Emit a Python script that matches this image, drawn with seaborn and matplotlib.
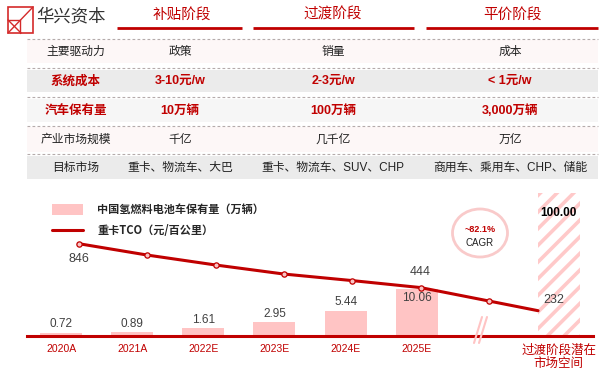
import matplotlib
matplotlib.use('Agg')
import matplotlib.pyplot as plt
import matplotlib.transforms as mtransforms
from matplotlib.patches import Rectangle, Ellipse, Patch
from matplotlib.lines import Line2D
import seaborn as sns
import pandas as pd

# ---------------- data ----------------
stages = ['补贴阶段', '过渡阶段', '平价阶段']
row_labels = ['主要驱动力', '系统成本', '汽车保有量', '产业市场规模', '目标市场']
col_subsidy = ['政策', '3-10元/w', '10万辆', '千亿', '重卡、物流车、大巴']
col_transition = ['销量', '2-3元/w', '100万辆', '几千亿', '重卡、物流车、SUV、CHP']
col_parity = ['成本', '< 1元/w', '3,000万辆', '万亿', '商用车、乘用车、CHP、储能']

years = ['2020A', '2021A', '2022E', '2023E', '2024E', '2025E']
gap_label = ' '
potential_label = '过渡阶段潜在\n市场空间'
fcv_stock = [0.72, 0.89, 1.61, 2.95, 5.44, 10.06]
potential_stock = 100.00
tco_pos = [0, 1, 2, 3, 4, 5, 6, 6.72]
tco_values = [846, 742, 651, 568, 508, 444, 321, 232]
tco_labelled = {0: 846, 5: 444, 7: 232}
cagr_text = '~82.1%'
legend_labels = ['中国氢燃料电池车保有量（万辆）', '重卡TCO（元/百公里）']
brand = '华兴资本'

# ---------------- style ----------------
RED = '#C00000'
PINK = '#FFC4C4'
HATCH = '#FFC9C9'
TXT = '#404040'
sns.set_style('white')
plt.rcParams['font.family'] = ['Noto Sans CJK SC', 'DejaVu Sans']
plt.rcParams['hatch.linewidth'] = 2.6
plt.rcParams['hatch.color'] = HATCH
MIX = ['Liberation Sans', 'Noto Sans CJK SC']

fig = plt.figure(figsize=(6.04, 3.72), dpi=100)
fig.patch.set_facecolor('white')

# pixel-space overlay for the table / decorations
bg = fig.add_axes([0, 0, 1, 1])
bg.set_xlim(0, 604)
bg.set_ylim(372, 0)
bg.axis('off')

# logo
bg.add_patch(Rectangle((8, 7), 25, 26, fill=False, ec='#D42A2A', lw=1.2))
for (x0, y0, x1, y1) in [(8, 33, 33, 7), (8, 20, 21, 33), (8, 20, 20, 20), (20, 20, 20, 33)]:
    bg.plot([x0, x1], [y0, y1], color='#D42A2A', lw=1.0)
bg.text(71, 16, brand, fontsize=12.5, color='#333333', ha='center', va='center')

# stage headers
stage_x = [182, 333, 512]
stage_lines = [(117, 242), (253, 414), (426, 598)]
for s, x, (l0, l1) in zip(stages, stage_x, stage_lines):
    bg.text(x, 15, s, fontsize=10.5, color=RED, ha='center', va='center')
    bg.plot([l0, l1], [28, 28], color=RED, lw=2.0, solid_capstyle='butt')

# table rows
rows_y = [(40, 63), (70, 92), (99, 122), (127, 152), (156, 179)]
row_bg = ['#FDF7F7', '#EBEBEB', '#F6F6F6', '#FDF7F7', '#EBEBEB']
dash_y = [39, 68, 97, 126, 154]
for yd in dash_y:
    bg.plot([27, 598], [yd, yd], color='#B5ABAB', lw=0.8, ls=(0, (2.5, 2)))
col_x = [76, 180, 333, 510]
for i, ((y0, y1), c) in enumerate(zip(rows_y, row_bg)):
    bg.add_patch(Rectangle((27, y0), 571, y1 - y0, color=c, lw=0))
    yc = (y0 + y1) / 2
    bold = i in (1, 2)
    cells = [row_labels[i], col_subsidy[i], col_transition[i], col_parity[i]]
    for j, (x, s) in enumerate(zip(col_x, cells)):
        if bold:
            bg.text(x, yc, s, fontsize=9, color=RED, fontweight='bold',
                    ha='center', va='center', family=MIX if j else 'Noto Sans CJK SC')
        else:
            bg.text(x, yc, s, fontsize=8.5, color='#222222',
                    ha='center', va='center', family=MIX if j else 'Noto Sans CJK SC')

# CAGR bubble
bg.add_patch(Ellipse((480, 233), 55, 48, fill=False, ec='#F9CACA', lw=2))
bg.text(480, 230, cagr_text, fontsize=6.5, color=RED, fontweight='bold',
        ha='center', va='center', family='Liberation Sans')
bg.text(480, 243, 'CAGR', fontsize=7, color='#222222', ha='center', va='center',
        family='Liberation Sans')

# ---------------- bar chart ----------------
rect = [27 / 604, 36 / 372, 566 / 604, 143 / 372]
ax = fig.add_axes(rect)
ax.patch.set_alpha(0)
df = pd.DataFrame({'cat': years + [potential_label],
                   'stock': fcv_stock + [potential_stock]})
order = years + [gap_label, potential_label]
sns.barplot(data=df, x='cat', y='stock', order=order, color=PINK, saturation=1,
            width=0.59, errorbar=None, ax=ax)
for p in ax.patches:
    p.set_linewidth(0)
    if p.get_height() > 50:
        p.set_facecolor('white')
        p.set_edgecolor(HATCH)
        p.set_hatch('//')
ax.set_ylim(0, 30.6)
ax.set_xlim(-0.48, 7.48)
ax.set_xlabel('')
ax.set_ylabel('')
ax.set_yticks([])
for s in ['left', 'right', 'top']:
    ax.spines[s].set_visible(False)
ax.spines['bottom'].set_color(RED)
ax.spines['bottom'].set_linewidth(2.2)
ax.tick_params(axis='x', length=0, pad=6, labelcolor=RED, labelsize=7.5)
for lbl in ax.get_xticklabels():
    lbl.set_fontfamily(MIX)
    if lbl.get_text() == potential_label:
        lbl.set_fontsize(9)
        lbl.set_linespacing(1.15)

for i, v in enumerate(fcv_stock):
    off = -6.5 if v >= 10 else 6
    ax.annotate(f'{v:.2f}', (i, v), xytext=(0, off), textcoords='offset points',
                ha='center', va='center', fontsize=8.5, color=TXT, family='Liberation Sans')
blend = mtransforms.blended_transform_factory(ax.transData, ax.transAxes)
ax.text(order.index(potential_label), 0.86, f'{potential_stock:.2f}', transform=blend,
        ha='center', va='center', fontsize=8.5, fontweight='bold', color='black',
        family='Liberation Sans')

# ---------------- TCO line ----------------
ax2 = fig.add_axes(rect)
ax2.patch.set_alpha(0)
sns.lineplot(x=tco_pos, y=tco_values, color=RED, lw=2.2, ax=ax2)
ax2.plot(tco_pos[:7], tco_values[:7], 'o', ms=3.8, mfc='#F9C4C4', mec=RED, mew=0.9)
ax2.set_xlim(-0.761, 7.525)
ax2.set_ylim(0, 1311)
ax2.axis('off')
offsets = {0: (0, -11), 5: (0, 11), 7: (11, 8)}
for k, v in tco_labelled.items():
    ax2.annotate(f'{v}', (tco_pos[k], v), xytext=offsets[k], textcoords='offset points',
                 ha='center', va='center', fontsize=9, color=TXT, family='Liberation Sans')

# axis-break marks
for dx in (0, 5):
    ax2.plot([474 + dx, 482 + dx], [343, 317], color='#FFC4C4', lw=1.5,
             transform=bg.transData, clip_on=False, zorder=6)

# legend
fig.legend(handles=[Patch(facecolor=PINK, edgecolor='none'), Line2D([0], [0], color=RED, lw=2.2)],
           labels=legend_labels, loc='upper left', bbox_to_anchor=(52 / 604, 1 - 203 / 372),
           frameon=False, borderpad=0, borderaxespad=0, handlelength=2.8, handleheight=1.1,
           handletextpad=1.25, labelspacing=0.75,
           prop={'family': 'Noto Sans CJK SC', 'weight': 'bold', 'size': 8})

fig.savefig('out.png', dpi=100)
